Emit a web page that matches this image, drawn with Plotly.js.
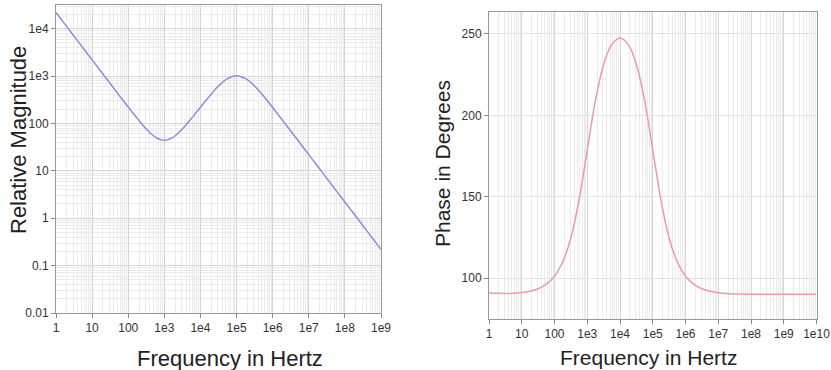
<!DOCTYPE html>
<html>
<head>
<meta charset="utf-8">
<script src="https://cdn.plot.ly/plotly-3.0.1.min.js"></script>
<style>html,body{margin:0;padding:0;background:#fff;}#chart{width:831px;height:370px;}</style>
</head>
<body>
<div id="chart"></div>
<script>
// Frequencies (Hz), sampled every quarter decade
const freqMag = [1, 1.78, 3.16, 5.62, 10, 17.8, 31.6, 56.2, 100, 178, 316, 562,
  1e3, 1780, 3160, 5620, 1e4, 17800, 31600, 56200, 1e5, 1.78e5, 3.16e5, 5.62e5,
  1e6, 1.78e6, 3.16e6, 5.62e6, 1e7, 1.78e7, 3.16e7, 5.62e7, 1e8, 1.78e8, 3.16e8, 5.62e8, 1e9];
const magnitude = [22000, 12360, 6950, 3909, 2198, 1236, 695, 392, 222, 128, 76.4, 51.4,
  44.0, 51.4, 76.4, 127, 220, 375, 615, 880, 1020, 880, 615, 375,
  218, 123, 69.5, 39.1, 22.0, 12.4, 6.95, 3.91, 2.20, 1.24, 0.695, 0.391, 0.220];

const freqPhase = [1, 1.78, 3.16, 5.62, 10, 17.8, 31.6, 56.2, 100, 178, 316, 562,
  1e3, 1780, 3160, 5620, 1e4, 17800, 31600, 56200, 1e5, 1.78e5, 3.16e5, 5.62e5,
  1e6, 1.78e6, 3.16e6, 5.62e6, 1e7, 1.78e7, 3.16e7, 5.62e7, 1e8, 1.78e8, 3.16e8, 5.62e8,
  1e9, 1.78e9, 3.16e9, 5.62e9, 1e10];
const phase = [91.0, 90.8, 90.7, 90.8, 91.2, 92.0, 93.6, 96.4, 101.3, 110.0, 124.7, 148.1,
  178.9, 209.3, 231.3, 243.6, 247.6, 243.6, 231.3, 209.3, 178.9, 148.1, 124.7, 110.0,
  101.3, 96.4, 93.6, 92.0, 91.1, 90.6, 90.4, 90.3, 90.2, 90.2, 90.2, 90.2,
  90.2, 90.2, 90.2, 90.2, 90.2];

const magTickVals = [0.01, 0.1, 1, 10, 100, 1e3, 1e4];
const magTickText = ['0.01', '0.1', '1', '10', '100', '1e3', '1e4'];
const freqTickVals1 = [1, 10, 100, 1e3, 1e4, 1e5, 1e6, 1e7, 1e8, 1e9];
const freqTickText1 = ['1', '10', '100', '1e3', '1e4', '1e5', '1e6', '1e7', '1e8', '1e9'];
const freqTickVals2 = [1, 10, 100, 1e3, 1e4, 1e5, 1e6, 1e7, 1e8, 1e9, 1e10];
const freqTickText2 = ['1', '10', '100', '1e3', '1e4', '1e5', '1e6', '1e7', '1e8', '1e9', '1e10'];
const phaseTickVals = [100, 150, 200, 250];

const titleTexts = ['Frequency in Hertz', 'Relative Magnitude', 'Frequency in Hertz', 'Phase in Degrees'];

const fontFam = 'Liberation Sans, Arial, sans-serif';
const tickFont = {family: fontFam, size: 12, color: '#333'};
const titleFontL = {family: fontFam, size: 22, color: '#222'};
const titleFontR = {family: fontFam, size: 21, color: '#222'};

const common = {
  showline: true, linecolor: '#999', linewidth: 1, mirror: true,
  ticks: 'outside', ticklen: 4, tickcolor: '#888',
  showgrid: true, gridcolor: '#d6d6d6', gridwidth: 1,
  zeroline: false, tickfont: tickFont
};

const traces = [
  {x: freqMag, y: magnitude, type: 'scatter', mode: 'lines', xaxis: 'x', yaxis: 'y',
   line: {color: '#8c8ce0', width: 1.5, shape: 'spline'}, hoverinfo: 'none'},
  {x: freqPhase, y: phase, type: 'scatter', mode: 'lines', xaxis: 'x2', yaxis: 'y2',
   line: {color: '#ef9aa2', width: 1.5, shape: 'spline'}, hoverinfo: 'none'}
];

const W = 831, H = 370;
const layout = {
  width: W, height: H,
  margin: {l: 0, r: 0, t: 0, b: 0},
  paper_bgcolor: '#fff', plot_bgcolor: '#fff',
  showlegend: false,
  xaxis: Object.assign({}, common, {
    type: 'log', range: [0, 9], domain: [56/W, 381/W], anchor: 'y',
    tickvals: freqTickVals1, ticktext: freqTickText1,
    minor: {dtick: 'D1', showgrid: true, gridcolor: '#ebebeb', ticks: ''}
  }),
  yaxis: Object.assign({}, common, {
    type: 'log', range: [-2, 4.5], domain: [57/H, 365/H], anchor: 'x',
    tickvals: magTickVals, ticktext: magTickText,
    minor: {dtick: 'D1', showgrid: true, gridcolor: '#ebebeb', ticks: ''}
  }),
  xaxis2: Object.assign({}, common, {
    type: 'log', range: [0, 10], domain: [489/W, 816.5/W], anchor: 'y2',
    tickvals: freqTickVals2, ticktext: freqTickText2,
    minor: {dtick: 'D1', showgrid: true, gridcolor: '#ebebeb', ticks: ''}
  }),
  yaxis2: Object.assign({}, common, {
    range: [75, 263.5], domain: [51/H, 358/H], anchor: 'x2',
    tickvals: phaseTickVals,
    gridcolor: '#e2e2e2'
  }),
  annotations: [
    {text: titleTexts[0], xref: 'paper', yref: 'paper', x: 230/W, y: 1 - 358/H,
     xanchor: 'center', yanchor: 'middle', showarrow: false, font: titleFontL},
    {text: titleTexts[1], xref: 'paper', yref: 'paper', x: 18/W, y: 1 - 140/H, textangle: -90,
     xanchor: 'center', yanchor: 'middle', showarrow: false, font: titleFontL},
    {text: titleTexts[2], xref: 'paper', yref: 'paper', x: 648/W, y: 1 - 357/H,
     xanchor: 'center', yanchor: 'middle', showarrow: false, font: titleFontR},
    {text: titleTexts[3], xref: 'paper', yref: 'paper', x: 443/W, y: 1 - 163/H, textangle: -90,
     xanchor: 'center', yanchor: 'middle', showarrow: false, font: titleFontR}
  ]
};

Plotly.newPlot('chart', traces, layout, {staticPlot: true, displayModeBar: false});
</script>
</body>
</html>
